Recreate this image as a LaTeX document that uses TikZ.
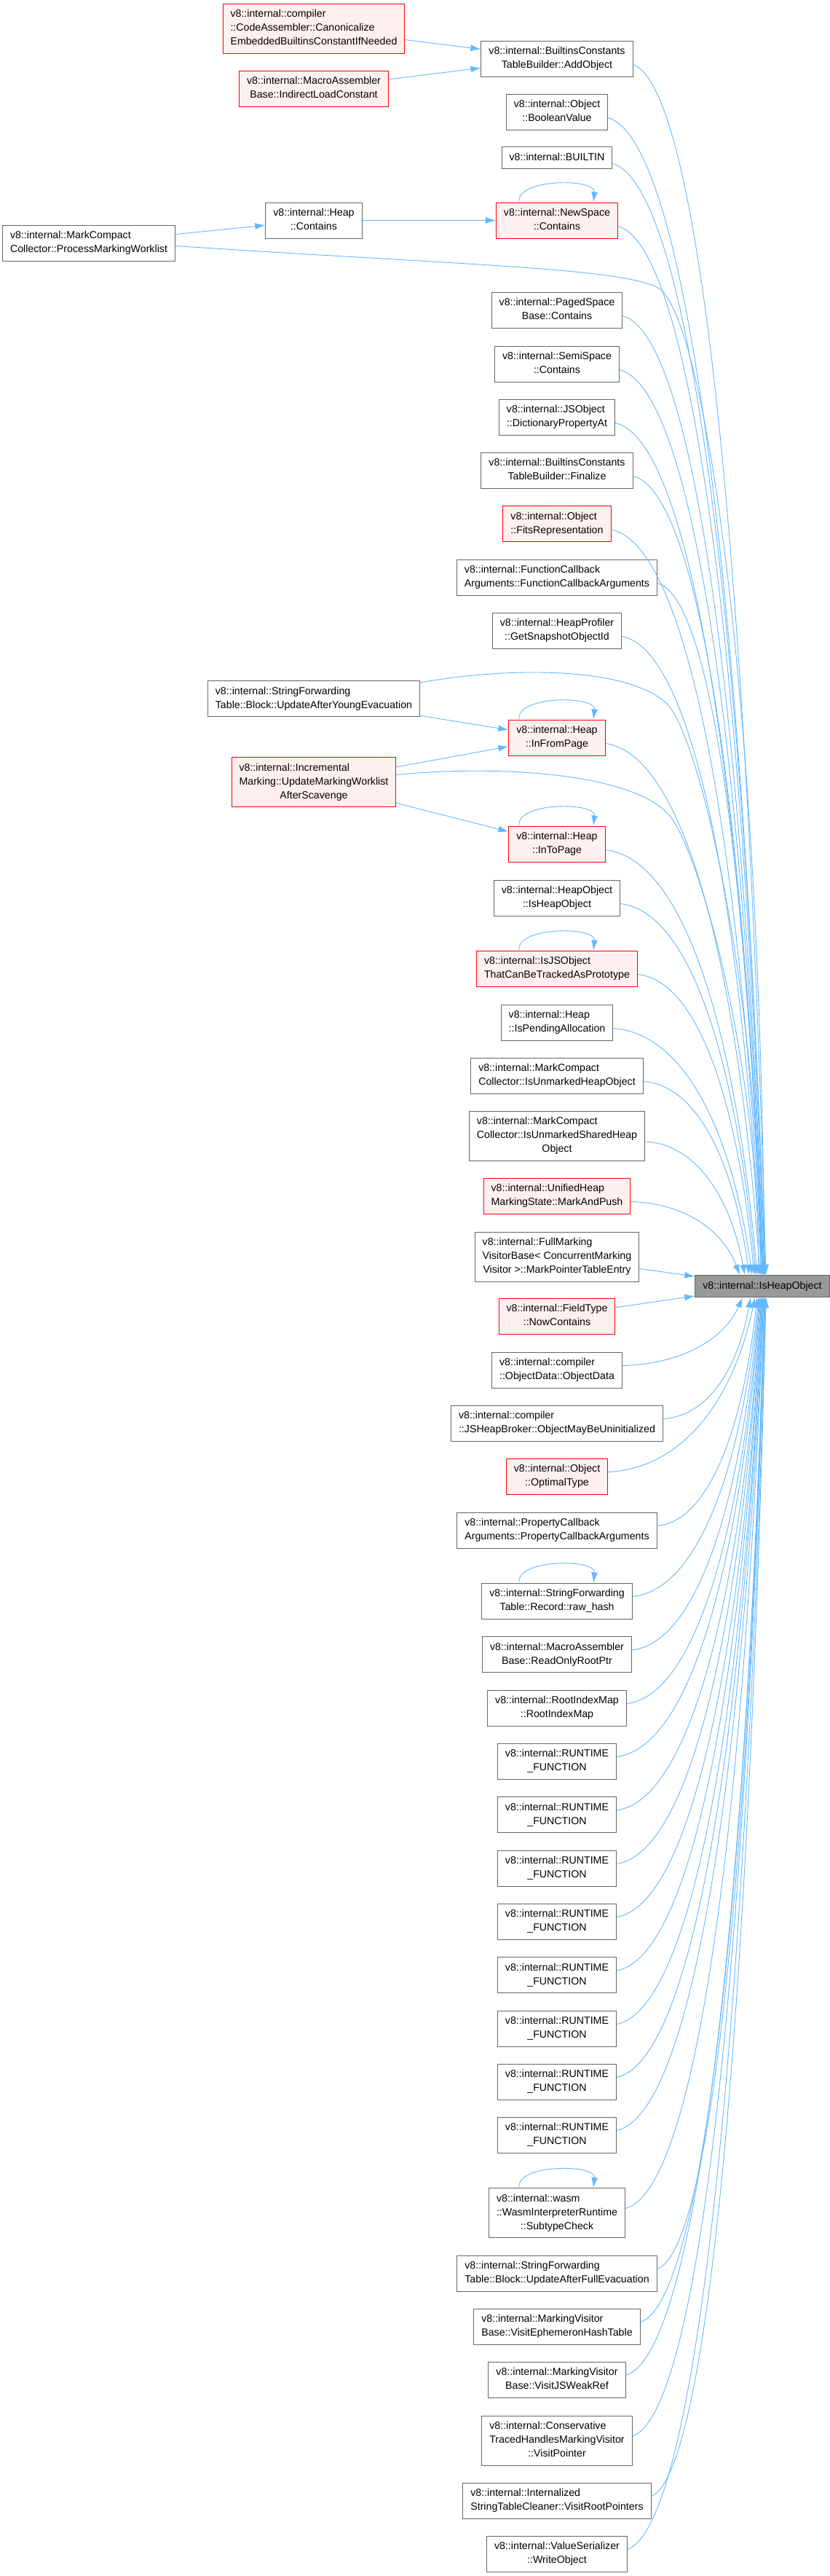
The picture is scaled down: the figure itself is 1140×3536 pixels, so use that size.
\documentclass[tikz,border=0pt]{standalone}
\usepackage{fontspec}
\setmainfont{Liberation Sans}
\usetikzlibrary{arrows.meta,calc}
\definecolor{edgeblue}{HTML}{63B8FF}
\definecolor{boxgray}{HTML}{666666}
\definecolor{boxred}{HTML}{FF0000}
\definecolor{pinkfill}{HTML}{FFF0F0}
\definecolor{tgtgray}{HTML}{999999}
\newcommand\nlA[1]{\begin{tabular}{@{}c@{}}#1\end{tabular}}
\newcommand\nlB[2]{\begin{tabular}{@{}l@{}}#1\\\multicolumn{1}{@{}c@{}}{#2}\end{tabular}}
\newcommand\nlC[3]{\begin{tabular}{@{}l@{}}#1\\#2\\\multicolumn{1}{@{}c@{}}{#3}\end{tabular}}
\newcommand\fanedge[2]{\draw[calledge] let \p1=(#1), \p2=(#2) in (\p1) .. controls ({\x1+0.5*(\x2-\x1)},{\y1+0.02*(\y2-\y1)}) and ({\x2-0.15*(\x2-\x1)},{\y2-0.6*(\y2-\y1)}) .. (\p2);}
\newcommand\selfloop[1]{\draw[calledge] ([xshift=-52pt]#1.north) .. controls +(-4pt,33pt) and +(4pt,33pt) .. ([xshift=50pt]#1.north);}
\tikzset{
  cbox/.style={draw=boxgray, fill=white, line width=1pt, rectangle, inner xsep=10.5pt, inner ysep=5.5pt, font=\fontsize{14.2}{19}\selectfont},
  rbox/.style={cbox, draw=boxred, fill=pinkfill},
  tbox/.style={cbox, fill=tgtgray},
  calledge/.style={draw=edgeblue, line width=0.9pt, -{Latex[length=14pt,width=9pt]}},
}
\begin{document}
\begin{tikzpicture}[x=1pt,y=-1pt]
\fill[white] (0,0) rectangle (1140,3536);
\useasboundingbox (0,0) rectangle (1140,3536);

% left side nodes
\node[rbox] (canon) at (431,39) {\nlC{v8::internal::compiler}{::CodeAssembler::Canonicalize}{EmbeddedBuiltinsConstantIfNeeded}};
\node[rbox] (ilc) at (431,121.5) {\nlB{v8::internal::MacroAssembler}{Base::IndirectLoadConstant}};
\node[cbox] (pmw) at (122,333.5) {\nlB{v8::internal::MarkCompact}{Collector::ProcessMarkingWorklist}};
\node[cbox] (hc) at (431,302.5) {\nlB{v8::internal::Heap}{::Contains}};
\node[cbox] (uay) at (431,959) {\nlB{v8::internal::StringForwarding}{Table::Block::UpdateAfterYoungEvacuation}};
\node[rbox] (inc) at (431,1073.5) {\nlC{v8::internal::Incremental}{Marking::UpdateMarkingWorklist}{AfterScavenge}};

% main column
\node[cbox] (addobj) at (765,80.5) {\nlB{v8::internal::BuiltinsConstants}{TableBuilder::AddObject}};
\node[cbox] (boolv) at (765,153.5) {\nlB{v8::internal::Object}{::BooleanValue}};
\node[cbox] (builtin) at (765,216.5) {\nlA{v8::internal::BUILTIN}};
\node[rbox] (ns) at (765,302.5) {\nlB{v8::internal::NewSpace}{::Contains}};
\node[cbox] (psb) at (765,425.5) {\nlB{v8::internal::PagedSpace}{Base::Contains}};
\node[cbox] (ss) at (765,499.5) {\nlB{v8::internal::SemiSpace}{::Contains}};
\node[cbox] (jso) at (765,572.5) {\nlB{v8::internal::JSObject}{::DictionaryPropertyAt}};
\node[cbox] (fin) at (765,645.5) {\nlB{v8::internal::BuiltinsConstants}{TableBuilder::Finalize}};
\node[rbox] (fits) at (765,719) {\nlB{v8::internal::Object}{::FitsRepresentation}};
\node[cbox] (fca) at (765,792.5) {\nlB{v8::internal::FunctionCallback}{Arguments::FunctionCallbackArguments}};
\node[cbox] (hp) at (765,865.5) {\nlB{v8::internal::HeapProfiler}{::GetSnapshotObjectId}};
\node[rbox] (ifp) at (765,1012.5) {\nlB{v8::internal::Heap}{::InFromPage}};
\node[rbox] (itp) at (765,1158.5) {\nlB{v8::internal::Heap}{::InToPage}};
\node[cbox] (hoi) at (765,1232.5) {\nlB{v8::internal::HeapObject}{::IsHeapObject}};
\node[rbox] (ijso) at (765,1329.5) {\nlB{v8::internal::IsJSObject}{ThatCanBeTrackedAsPrototype}};
\node[cbox] (ipa) at (765,1403.5) {\nlB{v8::internal::Heap}{::IsPendingAllocation}};
\node[cbox] (iuho) at (765,1476.5) {\nlB{v8::internal::MarkCompact}{Collector::IsUnmarkedHeapObject}};
\node[cbox] (iush) at (765,1559) {\nlC{v8::internal::MarkCompact}{Collector::IsUnmarkedSharedHeap}{Object}};
\node[rbox] (map) at (765,1641.5) {\nlB{v8::internal::UnifiedHeap}{MarkingState::MarkAndPush}};
\node[cbox] (fmv) at (765,1725) {\nlC{v8::internal::FullMarking}{VisitorBase< ConcurrentMarking}{Visitor >::MarkPointerTableEntry}};
\node[rbox] (nc) at (765,1806.5) {\nlB{v8::internal::FieldType}{::NowContains}};
\node[cbox] (od) at (765,1880.5) {\nlB{v8::internal::compiler}{::ObjectData::ObjectData}};
\node[cbox] (omb) at (765,1953.5) {\nlB{v8::internal::compiler}{::JSHeapBroker::ObjectMayBeUninitialized}};
\node[rbox] (ot) at (765,2026.5) {\nlB{v8::internal::Object}{::OptimalType}};
\node[cbox] (pca) at (765,2100.5) {\nlB{v8::internal::PropertyCallback}{Arguments::PropertyCallbackArguments}};
\node[cbox] (rh) at (765,2197.5) {\nlB{v8::internal::StringForwarding}{Table::Record::raw\_hash}};
\node[cbox] (roro) at (765,2271) {\nlB{v8::internal::MacroAssembler}{Base::ReadOnlyRootPtr}};
\node[cbox] (rim) at (765,2344.5) {\nlB{v8::internal::RootIndexMap}{::RootIndexMap}};
\node[cbox] (rfa) at (765,2417.5) {\nlB{v8::internal::RUNTIME}{\_FUNCTION}};
\node[cbox] (rfb) at (765,2491) {\nlB{v8::internal::RUNTIME}{\_FUNCTION}};
\node[cbox] (rfc) at (765,2564.5) {\nlB{v8::internal::RUNTIME}{\_FUNCTION}};
\node[cbox] (rfd) at (765,2637.5) {\nlB{v8::internal::RUNTIME}{\_FUNCTION}};
\node[cbox] (rfe) at (765,2711) {\nlB{v8::internal::RUNTIME}{\_FUNCTION}};
\node[cbox] (rff) at (765,2784.5) {\nlB{v8::internal::RUNTIME}{\_FUNCTION}};
\node[cbox] (rfg) at (765,2857.5) {\nlB{v8::internal::RUNTIME}{\_FUNCTION}};
\node[cbox] (rfh) at (765,2930.5) {\nlB{v8::internal::RUNTIME}{\_FUNCTION}};
\node[cbox] (stc) at (765,3037.5) {\nlC{v8::internal::wasm}{::WasmInterpreterRuntime}{::SubtypeCheck}};
\node[cbox] (uafe) at (765,3120.5) {\nlB{v8::internal::StringForwarding}{Table::Block::UpdateAfterFullEvacuation}};
\node[cbox] (veht) at (765,3193.5) {\nlB{v8::internal::MarkingVisitor}{Base::VisitEphemeronHashTable}};
\node[cbox] (vjsw) at (765,3266.5) {\nlB{v8::internal::MarkingVisitor}{Base::VisitJSWeakRef}};
\node[cbox] (cthv) at (765,3350) {\nlC{v8::internal::Conservative}{TracedHandlesMarkingVisitor}{::VisitPointer}};
\node[cbox] (istc) at (765,3432.5) {\nlB{v8::internal::Internalized}{StringTableCleaner::VisitRootPointers}};
\node[cbox] (vs) at (765,3505.5) {\nlB{v8::internal::ValueSerializer}{::WriteObject}};

% target
\node[tbox] (T) at (1047,1765.5) {\nlA{v8::internal::IsHeapObject}};

% straight edges
\draw[calledge] (canon) -- (addobj);
\draw[calledge] (ilc) -- (addobj);
\draw[calledge] (pmw) -- (hc);
\draw[calledge] (hc) -- (ns);
\draw[calledge] (uay) -- (ifp);
\draw[calledge] (inc) -- (ifp);
\draw[calledge] (inc) -- (itp);
\draw[calledge] (fmv) -- (T);
\draw[calledge] (nc) -- (T);

% self loops
\selfloop{ns}
\selfloop{ifp}
\selfloop{itp}
\selfloop{ijso}
\selfloop{rh}
\selfloop{stc}

% long edges from the left column
\draw[calledge] ([yshift=-4pt]pmw.east) .. controls (650,365) and (880,368) .. (910,400) .. controls (975,470) and (1045,1000) .. ([xshift=3pt]T.north);
\draw[calledge] ([yshift=22pt]uay.east) .. controls (700,915) and (860,915) .. (915,965) .. controls (960,1006) and (1040,1350) .. ([xshift=-2pt]T.north);
\draw[calledge] ([yshift=10pt]inc.east) .. controls (680,1050) and (870,1060) .. (920,1120) .. controls (960,1168) and (1040,1450) .. ([xshift=-5pt]T.north);

% fan from upper column
\foreach \nn/\dd in {addobj/5, boolv/4, builtin/4, ns/3, psb/2, ss/2, jso/1, fin/1, fits/0, fca/0, hp/-1, ifp/-3, itp/-7, hoi/-9, ijso/-11, ipa/-14, iuho/-18, iush/-24, map/-31}{
  \fanedge{[yshift=-8pt]\nn.east}{[xshift=\dd pt]T.north}
}
% fan from lower column
\foreach \nn/\dd in {od/-27, omb/-16, ot/-10, pca/-7, rh/-5, roro/-4, rim/-3, rfa/-2, rfb/-1, rfc/-1, rfd/0, rfe/0, rff/1, rfg/1, rfh/2, stc/2, uafe/3, veht/3, vjsw/4, cthv/4, istc/5, vs/5}{
  \fanedge{[yshift=6pt]\nn.east}{[xshift=\dd pt]T.south}
}
\end{tikzpicture}
\end{document}
